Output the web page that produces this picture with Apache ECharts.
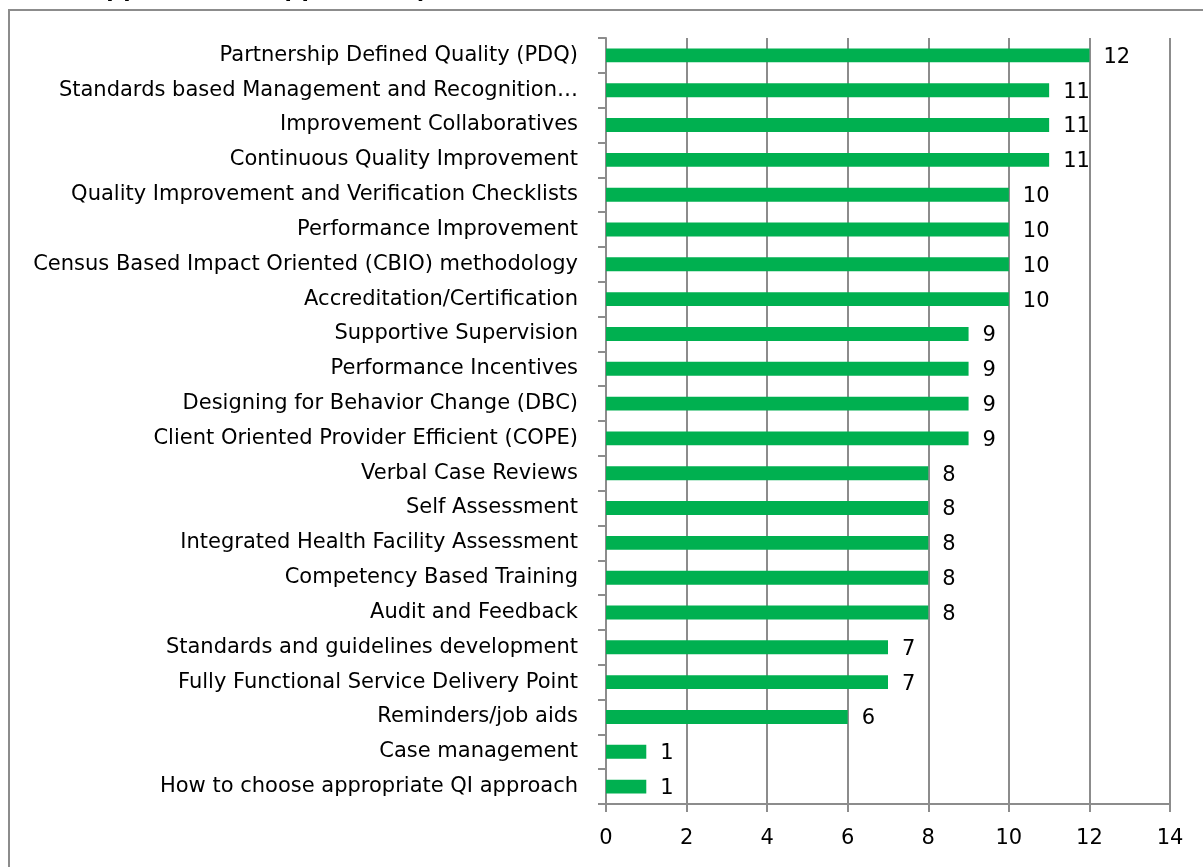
<!DOCTYPE html>
<html>
<head>
<meta charset="utf-8">
<script src="https://cdn.jsdelivr.net/npm/echarts@6/dist/echarts.min.js"></script>
<style>
html,body{margin:0;padding:0;background:#fff;}
#chart{width:1203px;height:867px;}
</style>
</head>
<body>
<div id="chart"></div>
<script>
const categories = [
  "Partnership Defined Quality (PDQ)",
  "Standards based Management and Recognition\u2026",
  "Improvement Collaboratives",
  "Continuous Quality Improvement",
  "Quality Improvement and Verification Checklists",
  "Performance Improvement",
  "Census Based Impact Oriented (CBIO) methodology",
  "Accreditation/Certification",
  "Supportive Supervision",
  "Performance Incentives",
  "Designing for Behavior Change (DBC)",
  "Client Oriented Provider Efficient (COPE)",
  "Verbal Case Reviews",
  "Self Assessment",
  "Integrated Health Facility Assessment",
  "Competency Based Training",
  "Audit and Feedback",
  "Standards and guidelines development",
  "Fully Functional Service Delivery Point",
  "Reminders/job aids",
  "Case management",
  "How to choose appropriate QI approach"
];
const values = [12, 11, 11, 11, 10, 10, 10, 10, 9, 9, 9, 9, 8, 8, 8, 8, 8, 7, 7, 6, 1, 1];
const titleText = "QI Approaches Supported by";

const FONT = '"DejaVu Sans", "Open Sans", sans-serif';
const GRAY = '#8c8c8c';
const chart = echarts.init(document.getElementById('chart'));
chart.setOption({
  animation: false,
  backgroundColor: '#fff',
  title: {
    text: titleText,
    left: 40,
    top: -33.5,
    textStyle: {fontFamily: 'Lato, sans-serif', fontSize: 30, fontWeight: 'bold', color: '#000'}
  },
  graphic: [{
    type: 'rect',
    shape: {x: 9, y: 10, width: 1400, height: 1000},
    style: {fill: 'none', stroke: GRAY, lineWidth: 2},
    silent: true, z: -1
  }],
  grid: {left: 606, right: 33, top: 38, bottom: 63, containLabel: false},
  xAxis: {
    type: 'value', min: 0, max: 14, interval: 2,
    axisLine: {show: true, lineStyle: {color: GRAY, width: 2}},
    axisTick: {show: true, length: 8, lineStyle: {color: GRAY, width: 2}},
    splitLine: {show: true, lineStyle: {color: GRAY, width: 2}},
    axisLabel: {fontFamily: FONT, fontSize: 21, color: '#000', margin: 24}
  },
  yAxis: {
    type: 'category', data: categories, inverse: true,
    axisLine: {show: true, lineStyle: {color: GRAY, width: 2}},
    axisTick: {show: true, length: 8, alignWithLabel: false, lineStyle: {color: GRAY, width: 2}},
    axisLabel: {fontFamily: FONT, fontSize: 21, color: '#000', margin: 28}
  },
  series: [{
    type: 'bar', data: values, barWidth: '40%',
    itemStyle: {color: '#00B050'},
    label: {show: true, position: 'right', distance: 14, fontFamily: FONT, fontSize: 21, color: '#000', offset: [0, 2]}
  }]
});
</script>
</body>
</html>
